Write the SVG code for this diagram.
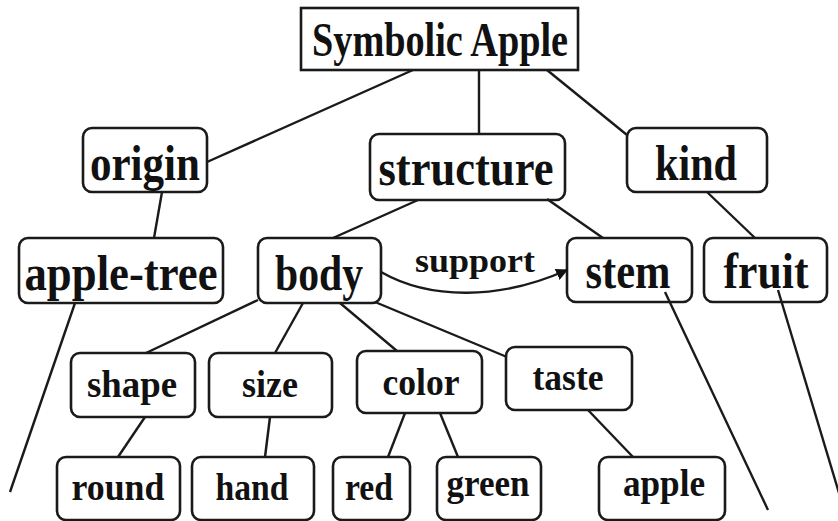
<svg xmlns="http://www.w3.org/2000/svg" width="838" height="521" viewBox="0 0 838 521">
<style>
.box{fill:#fff;stroke:#1a1a1a;stroke-width:2.6}
.t{font-family:"Liberation Serif","Times New Roman",serif;font-weight:bold;fill:#111;text-anchor:middle}
.l{font-size:50px}
.s{font-size:38px}
.e{stroke:#1a1a1a;stroke-width:2.4;fill:none}
</style>
<defs>
<marker id="arr" viewBox="0 0 10 10" refX="9" refY="5" markerWidth="5" markerHeight="5" orient="auto" markerUnits="strokeWidth">
<path d="M0,0 L10,5 L0,10 z" fill="#111"/>
</marker>
</defs>
<rect width="838" height="521" fill="#fff"/>
<g id="symbolic-apple"><rect x="301" y="8" width="277" height="62" class="box" stroke-width="3.2"/><text class="t" x="440" y="56" font-size="48" textLength="256" lengthAdjust="spacingAndGlyphs">Symbolic Apple</text></g>
<g id="origin"><rect x="83" y="128" width="124" height="64" rx="9" class="box"/><text class="t l" x="145" y="180" textLength="110" lengthAdjust="spacingAndGlyphs">origin</text></g>
<g id="structure"><rect x="370" y="134" width="195" height="66" rx="9" class="box"/><text class="t l" x="466" y="185" textLength="175" lengthAdjust="spacingAndGlyphs">structure</text></g>
<g id="kind"><rect x="627" y="128" width="140" height="64" rx="9" class="box"/><text class="t l" x="696" y="180" textLength="82" lengthAdjust="spacingAndGlyphs">kind</text></g>
<g id="apple-tree"><rect x="19" y="238" width="204" height="65" rx="9" class="box"/><text class="t l" x="121" y="290" textLength="193" lengthAdjust="spacingAndGlyphs">apple-tree</text></g>
<g id="body"><rect x="258" y="238" width="123" height="65" rx="9" class="box"/><text class="t l" x="319" y="290" textLength="88" lengthAdjust="spacingAndGlyphs">body</text></g>
<g id="stem"><rect x="567" y="238" width="125" height="64" rx="9" class="box"/><text class="t l" x="628" y="288" textLength="85" lengthAdjust="spacingAndGlyphs">stem</text></g>
<g id="fruit"><rect x="704" y="238" width="123" height="64" rx="9" class="box"/><text class="t l" x="766" y="288" textLength="85" lengthAdjust="spacingAndGlyphs">fruit</text></g>
<g id="shape"><rect x="71" y="353" width="124" height="64" rx="9" class="box"/><text class="t s" x="132" y="397" textLength="90" lengthAdjust="spacingAndGlyphs">shape</text></g>
<g id="size"><rect x="209" y="353" width="123" height="64" rx="9" class="box"/><text class="t s" x="270" y="397" textLength="56" lengthAdjust="spacingAndGlyphs">size</text></g>
<g id="color"><rect x="357" y="351" width="125" height="62" rx="9" class="box"/><text class="t s" x="421" y="395" textLength="77" lengthAdjust="spacingAndGlyphs">color</text></g>
<g id="taste"><rect x="506" y="347" width="126" height="63" rx="9" class="box"/><text class="t s" x="568" y="390" textLength="71" lengthAdjust="spacingAndGlyphs">taste</text></g>
<g id="round"><rect x="57" y="457" width="123" height="63" rx="9" class="box"/><text class="t s" x="118" y="500" textLength="93" lengthAdjust="spacingAndGlyphs">round</text></g>
<g id="hand"><rect x="192" y="457" width="122" height="63" rx="9" class="box"/><text class="t s" x="252" y="500" textLength="73" lengthAdjust="spacingAndGlyphs">hand</text></g>
<g id="red"><rect x="333" y="457" width="77" height="63" rx="9" class="box"/><text class="t s" x="369" y="500" textLength="48" lengthAdjust="spacingAndGlyphs">red</text></g>
<g id="green"><rect x="437" y="457" width="104" height="63" rx="9" class="box"/><text class="t s" x="488" y="496" textLength="83" lengthAdjust="spacingAndGlyphs">green</text></g>
<g id="apple"><rect x="599" y="457" width="126" height="63" rx="9" class="box"/><text class="t s" x="664" y="496" textLength="82" lengthAdjust="spacingAndGlyphs">apple</text></g>
<g id="connectors">
<line class="e" x1="413" y1="70" x2="207" y2="162"/>
<line class="e" x1="479" y1="70" x2="479" y2="134"/>
<line class="e" x1="547" y1="70" x2="627" y2="135"/>
<line class="e" x1="162" y1="192" x2="154" y2="238"/>
<line class="e" x1="418" y1="200" x2="333" y2="238"/>
<line class="e" x1="547" y1="199" x2="603" y2="238"/>
<line class="e" x1="707" y1="192" x2="755" y2="238"/>
<path class="e" d="M381,272 C430,300 500,300 567,270" marker-end="url(#arr)"/>
<text class="t" x="475" y="272" font-size="34" textLength="120" lengthAdjust="spacingAndGlyphs">support</text>
<line class="e" x1="75" y1="303" x2="10" y2="492"/>
<line class="e" x1="665" y1="292" x2="768" y2="510"/>
<line class="e" x1="778" y1="290" x2="842" y2="503"/>
<line class="e" x1="258" y1="300" x2="146" y2="353"/>
<line class="e" x1="303" y1="303" x2="275" y2="353"/>
<line class="e" x1="340" y1="303" x2="397" y2="351"/>
<line class="e" x1="375" y1="302" x2="507" y2="357"/>
<line class="e" x1="145" y1="417" x2="118" y2="457"/>
<line class="e" x1="270" y1="417" x2="265" y2="457"/>
<line class="e" x1="405" y1="413" x2="388" y2="457"/>
<line class="e" x1="440" y1="413" x2="458" y2="457"/>
<line class="e" x1="588" y1="410" x2="633" y2="457"/>
</g>
</svg>
